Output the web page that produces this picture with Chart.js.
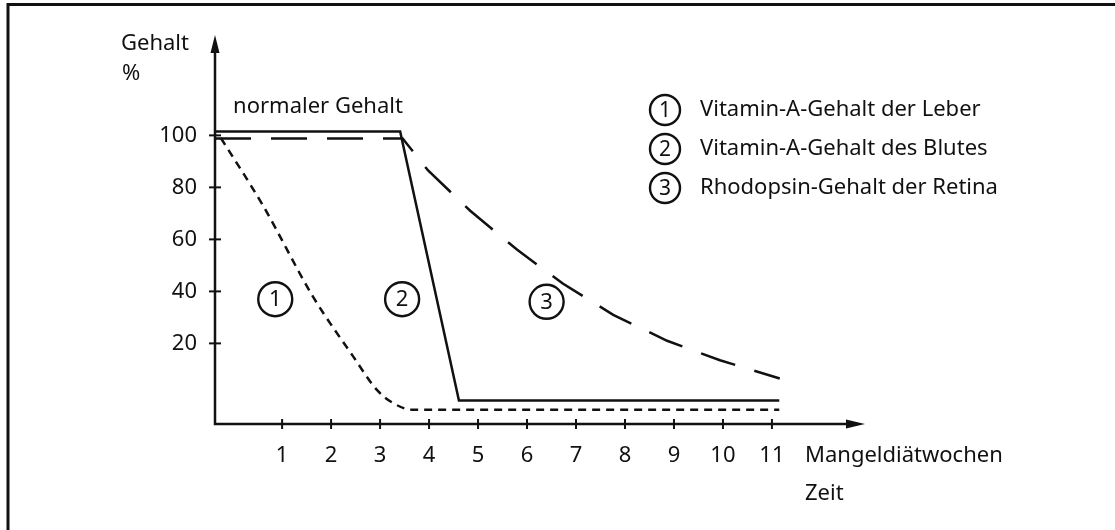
<!DOCTYPE html>
<html lang="de">
<head>
<meta charset="utf-8">
<title>Vitamin-A-Mangel</title>
<script src="https://cdn.jsdelivr.net/npm/chart.js@4.4.1/dist/chart.umd.min.js"></script>
<style>
    html, body { margin: 0; padding: 0; background: #fff; }
    #wrap { width: 1115px; height: 530px; }
</style>
</head>
<body>
<div id="wrap"><canvas id="vitChart" width="1115" height="530"></canvas></div>
<script>
// Tick values shown on the axes
const xTicks = [1, 2, 3, 4, 5, 6, 7, 8, 9, 10, 11];
const yTicks = [20, 40, 60, 80, 100];

// (1) Vitamin-A-Gehalt der Leber - short dashes
const leberWeeks = [-0.25, 0.61, 1.63, 2.45, 2.94, 3.27, 3.65, 11.15];
const leberValues = [99, 73, 38, 15, 2, -3, -5.5, -5.5];

// (2) Vitamin-A-Gehalt des Blutes - solid
const blutWeeks = [-0.37, 3.41, 4.61, 11.15];
const blutValues = [101.5, 101.5, -2, -2];

// (3) Rhodopsin-Gehalt der Retina - long dashes
const retinaWeeks = [-0.37, 3.46, 3.98, 4.84, 5.8, 6.73, 7.76, 8.86, 9.94, 11.16];
const retinaValues = [98.8, 98.8, 86.5, 71, 56, 43, 31, 21, 13.5, 6.5];

// Circled numbers in the plot, and the legend texts
const seriesNumbers = ['1', '2', '3'];
const markerWeeks = [0.86, 3.45, 6.4];
const markerValues = [37, 37, 36];
const legendLabels = [
    'Vitamin-A-Gehalt der Leber',
    'Vitamin-A-Gehalt des Blutes',
    'Rhodopsin-Gehalt der Retina'
];
const noteText = 'normaler Gehalt';
const noteWeek = 0;
const noteValue = 111;

const ink = '#111';
const fontFamily = '"Noto Sans", "DejaVu Sans", sans-serif';

function toPoints(xs, ys) {
    return xs.map((x, i) => ({ x: x, y: ys[i] }));
}

function drawCircled(ctx, x, y, r, label, size) {
    ctx.beginPath();
    ctx.arc(x, y, r, 0, Math.PI * 2);
    ctx.lineWidth = 2.4;
    ctx.strokeStyle = ink;
    ctx.stroke();
    ctx.font = size + 'px ' + fontFamily;
    ctx.fillStyle = ink;
    ctx.textAlign = 'center';
    ctx.textBaseline = 'middle';
    ctx.fillText(label, x, y + 1);
}

// Axes with arrows, crossing tick marks, frame and free text
const sketchPlugin = {
    id: 'sketch',
    afterDraw(chart) {
        const ctx = chart.ctx;
        const xs = chart.scales.x;
        const ys = chart.scales.y;
        const left = xs.left;
        const right = xs.right;
        const top = ys.top;
        const bottom = ys.bottom;

        ctx.save();
        ctx.strokeStyle = ink;
        ctx.fillStyle = ink;

        // frame (top and left only)
        ctx.lineWidth = 3;
        ctx.beginPath();
        ctx.moveTo(8, 530);
        ctx.lineTo(8, 4.5);
        ctx.lineTo(1115, 4.5);
        ctx.stroke();

        // axis lines
        ctx.lineWidth = 2.5;
        ctx.beginPath();
        ctx.moveTo(left, top + 10);
        ctx.lineTo(left, bottom);
        ctx.lineTo(right - 10, bottom);
        ctx.stroke();

        // arrow heads
        ctx.beginPath();
        ctx.moveTo(left, top);
        ctx.lineTo(left - 4.5, top + 18);
        ctx.lineTo(left + 4.5, top + 18);
        ctx.closePath();
        ctx.fill();
        ctx.beginPath();
        ctx.moveTo(right, bottom);
        ctx.lineTo(right - 19, bottom - 4.5);
        ctx.lineTo(right - 19, bottom + 4.5);
        ctx.closePath();
        ctx.fill();

        // tick marks crossing the axes
        ctx.lineWidth = 2;
        xTicks.forEach(v => {
            const px = xs.getPixelForValue(v);
            ctx.beginPath();
            ctx.moveTo(px, bottom - 5);
            ctx.lineTo(px, bottom + 5);
            ctx.stroke();
        });
        yTicks.forEach(v => {
            const py = ys.getPixelForValue(v);
            ctx.beginPath();
            ctx.moveTo(left - 6, py);
            ctx.lineTo(left + 6, py);
            ctx.stroke();
        });

        // axis titles
        ctx.font = '22px ' + fontFamily;
        ctx.textAlign = 'left';
        ctx.textBaseline = 'middle';
        ctx.fillText('Gehalt', 121, 44);
        ctx.fillText('%', 122, 74);
        ctx.fillText('Mangeldiätwochen', 805, 456);
        ctx.fillText('Zeit', 805, 494);

        // note above the normal level
        ctx.fillText(noteText, xs.getPixelForValue(noteWeek), ys.getPixelForValue(noteValue));

        // circled numbers in the plot
        seriesNumbers.forEach((n, i) => {
            drawCircled(ctx, xs.getPixelForValue(markerWeeks[i]), ys.getPixelForValue(markerValues[i]), 17, n, 22);
        });

        // legend
        seriesNumbers.forEach((n, i) => {
            const y = 110 + i * 39;
            drawCircled(ctx, 665, y, 15, n, 21);
            ctx.font = '22px ' + fontFamily;
            ctx.textAlign = 'left';
            ctx.textBaseline = 'middle';
            ctx.fillText(legendLabels[i], 700, y);
        });

        ctx.restore();
    }
};

const ctx = document.getElementById('vitChart').getContext('2d');

window.vitChart = new Chart(ctx, {
    type: 'line',
    data: {
        datasets: [
            {
                label: legendLabels[0],
                data: toPoints(leberWeeks, leberValues),
                borderColor: ink,
                borderWidth: 2.5,
                borderDash: [8, 6],
                cubicInterpolationMode: 'monotone',
                pointRadius: 0
            },
            {
                label: legendLabels[1],
                data: toPoints(blutWeeks, blutValues),
                borderColor: ink,
                borderWidth: 2.5,
                tension: 0,
                pointRadius: 0
            },
            {
                label: legendLabels[2],
                data: toPoints(retinaWeeks, retinaValues),
                borderColor: ink,
                borderWidth: 2.5,
                borderDash: [36, 20],
                tension: 0,
                pointRadius: 0
            }
        ]
    },
    options: {
        responsive: false,
        animation: false,
        clip: false,
        layout: {
            padding: { top: 35, right: 250, left: 0, bottom: 0 }
        },
        scales: {
            x: {
                type: 'linear',
                min: -0.37,
                max: 12.9,
                grid: { display: false, drawTicks: false },
                border: { display: false },
                afterFit: (scale) => { scale.height = 106; },
                afterBuildTicks: (scale) => { scale.ticks = xTicks.map(v => ({ value: v })); },
                ticks: {
                    padding: 19,
                    color: ink,
                    font: { family: fontFamily, size: 22 },
                    callback: (v) => String(v)
                }
            },
            y: {
                type: 'linear',
                min: -11,
                max: 138.6,
                grid: { display: false, drawTicks: false },
                border: { display: false },
                afterFit: (scale) => { scale.width = 215; },
                afterBuildTicks: (scale) => { scale.ticks = yTicks.map(v => ({ value: v })); },
                ticks: {
                    padding: 18,
                    color: ink,
                    font: { family: fontFamily, size: 22 },
                    callback: (v) => String(v)
                }
            }
        },
        plugins: {
            legend: { display: false },
            tooltip: { enabled: false }
        }
    },
    plugins: [sketchPlugin]
});
</script>
</body>
</html>
